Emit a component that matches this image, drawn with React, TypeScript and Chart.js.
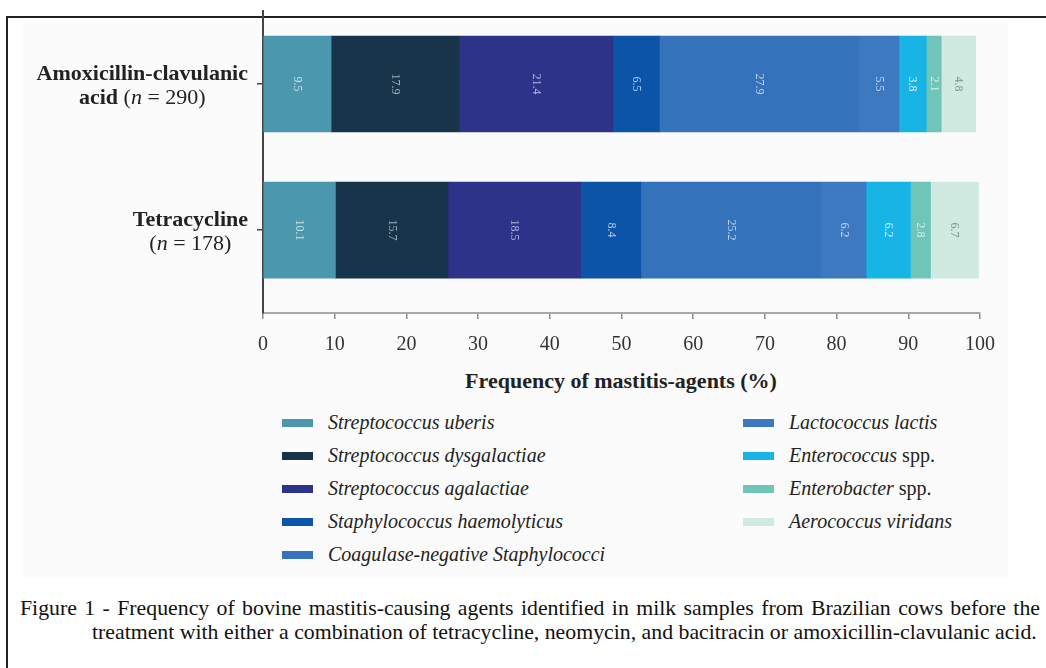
import React, { useEffect, useRef } from "react";
import { Chart, registerables } from "chart.js";

Chart.register(...registerables);

// ---------- data ----------
const categories = ["Amoxicillin-clavulanic acid (n = 290)", "Tetracycline (n = 178)"];

const seriesNames = [
  "Streptococcus uberis",
  "Streptococcus dysgalactiae",
  "Streptococcus agalactiae",
  "Staphylococcus haemolyticus",
  "Coagulase-negative Staphylococci",
  "Lactococcus lactis",
  "Enterococcus spp.",
  "Enterobacter spp.",
  "Aerococcus viridans",
];

const streptococcusUberis = [9.5, 10.1];
const streptococcusDysgalactiae = [17.9, 15.7];
const streptococcusAgalactiae = [21.4, 18.5];
const staphylococcusHaemolyticus = [6.5, 8.4];
const coagulaseNegativeStaph = [27.9, 25.2];
const lactococcusLactis = [5.5, 6.2];
const enterococcusSpp = [3.8, 6.2];
const enterobacterSpp = [2.1, 2.8];
const aerococcusViridans = [4.8, 6.7];

const seriesValues = [
  streptococcusUberis,
  streptococcusDysgalactiae,
  streptococcusAgalactiae,
  staphylococcusHaemolyticus,
  coagulaseNegativeStaph,
  lactococcusLactis,
  enterococcusSpp,
  enterobacterSpp,
  aerococcusViridans,
];

const seriesColors = [
  "#4b97ad",
  "#18344a",
  "#2d3388",
  "#0c54a8",
  "#3572bc",
  "#3d79c1",
  "#17b4e5",
  "#6fc5b8",
  "#d0eae2",
];

const valueLabelColors = [
  "rgba(215,232,240,0.9)",
  "rgba(170,190,205,0.9)",
  "rgba(190,195,235,0.9)",
  "rgba(200,215,240,0.9)",
  "rgba(205,220,245,0.9)",
  "rgba(210,225,245,0.9)",
  "rgba(225,240,250,0.95)",
  "rgba(225,240,238,0.95)",
  "rgba(120,135,130,0.9)",
];

const xTickValues = [0, 10, 20, 30, 40, 50, 60, 70, 80, 90, 100];

const xAxisTitle = "Frequency of mastitis-agents (%)";

// category label text runs: [text, style]  b=bold, n=normal, i=italic
const categoryLabelLines: [string, string][][][] = [
  [
    [["Amoxicillin-clavulanic", "b"]],
    [["acid", "b"], [" (", "n"], ["n", "i"], [" = 290)", "n"]],
  ],
  [
    [["Tetracycline", "b"]],
    [["(", "n"], ["n", "i"], [" = 178)", "n"]],
  ],
];

const captionLine1 =
  "Figure 1 - Frequency of bovine mastitis-causing agents identified in milk samples from Brazilian cows before the";
const captionLine2 =
  "treatment with either a combination of tetracycline, neomycin, and bacitracin or amoxicillin-clavulanic acid.";

const SERIF = "'Liberation Serif', 'Times New Roman', serif";

function fontFor(style: string, size: number) {
  if (style === "b") return `bold ${size}px ${SERIF}`;
  if (style === "i") return `italic ${size}px ${SERIF}`;
  return `${size}px ${SERIF}`;
}

const categoryLabelPlugin = {
  id: "categoryLabels",
  afterDraw(chart: any) {
    const ctx = chart.ctx;
    const yScale = chart.scales.y;
    const size = 22;
    const rightEdge = 248;
    ctx.save();
    ctx.fillStyle = "#222";
    ctx.textBaseline = "middle";
    ctx.textAlign = "left";
    categoryLabelLines.forEach((lines, idx) => {
      const cy = yScale.getPixelForValue(idx);
      const widths = lines.map((runs) =>
        runs.reduce((acc, [t, s]) => {
          ctx.font = fontFor(s, size);
          return acc + ctx.measureText(t).width;
        }, 0)
      );
      const blockW = Math.max(...widths);
      const center = rightEdge - blockW / 2;
      const offsets = [-10, 14];
      lines.forEach((runs, li) => {
        let x = center - widths[li] / 2;
        runs.forEach(([t, s]) => {
          ctx.font = fontFor(s, size);
          ctx.fillText(t, x, cy + offsets[li]);
          x += ctx.measureText(t).width;
        });
      });
    });
    ctx.restore();
  },
};

const valueLabelPlugin = {
  id: "valueLabels",
  afterDatasetsDraw(chart: any) {
    const ctx = chart.ctx;
    ctx.save();
    ctx.font = `12px ${SERIF}`;
    ctx.textAlign = "center";
    ctx.textBaseline = "middle";
    chart.data.datasets.forEach((ds: any, di: number) => {
      const meta = chart.getDatasetMeta(di);
      meta.data.forEach((bar: any, i: number) => {
        const v = seriesValues[di][i];
        const cx = (bar.x + bar.base) / 2;
        const cy = bar.y;
        ctx.save();
        ctx.translate(cx, cy);
        ctx.rotate(Math.PI / 2);
        ctx.fillStyle = valueLabelColors[di];
        ctx.fillText(Number(v).toFixed(1), 0, 0);
        ctx.restore();
      });
    });
    ctx.restore();
  },
};

function LegendItem({ name, color }: { name: string; color: string }) {
  const m = name.match(/^(.*?)( spp\.)$/);
  return (
    <div style={{ display: "flex", alignItems: "center", height: 33 }}>
      <div style={{ width: 31, height: 8, background: color, marginRight: 15, flex: "none" }} />
      <span style={{ fontFamily: SERIF, fontSize: 20, color: "#222", whiteSpace: "nowrap" }}>
        {m ? (
          <>
            <i>{m[1]}</i>
            {m[2]}
          </>
        ) : (
          <i>{name}</i>
        )}
      </span>
    </div>
  );
}

export default function App() {
  const canvasRef = useRef<HTMLCanvasElement | null>(null);

  useEffect(() => {
    const canvas = canvasRef.current;
    if (!canvas) return;
    const chart = new Chart(canvas, {
      type: "bar",
      data: {
        labels: categories,
        datasets: seriesNames.map((name, i) => ({
          label: name,
          data: seriesValues[i].map((v, ci) => ({ x: v, y: ci })),
          backgroundColor: seriesColors[i],
          borderWidth: 0,
          barThickness: 96,
          stack: "all",
        })),
      },
      options: {
        indexAxis: "y",
        animation: false,
        responsive: false,
        devicePixelRatio: 1,
        layout: { padding: { left: 257, right: 66, top: 11, bottom: 0 } },
        plugins: {
          legend: { display: false },
          tooltip: { enabled: false },
        },
        scales: {
          x: {
            type: "linear",
            stacked: true,
            min: 0,
            max: 100,
            afterBuildTicks: (s: any) => {
              s.ticks = xTickValues.map((v) => ({ value: v }));
            },
            afterFit: (s: any) => {
              s.height = 47;
            },
            ticks: {
              font: { family: SERIF, size: 20 },
              color: "#333",
              padding: 14,
              maxRotation: 0,
            },
            grid: {
              drawOnChartArea: false,
              tickLength: 6,
              color: "#8a8a8a",
              lineWidth: 1.5,
            },
            border: { color: "#a8a8a8", width: 2 },
          },
          y: {
            type: "linear",
            reverse: true,
            offset: false,
            min: -0.5,
            max: 1.568,
            afterBuildTicks: (s: any) => {
              s.ticks = categories.map((_, i) => ({ value: i }));
            },
            afterFit: (s: any) => {
              s.width = 6;
            },
            ticks: { display: false },
            grid: {
              offset: false,
              drawOnChartArea: false,
              tickLength: 6,
              color: "#444",
              lineWidth: 1.5,
            },
            border: { color: "#444", width: 2 },
          },
        },
      },
      plugins: [categoryLabelPlugin, valueLabelPlugin],
    } as any);
    return () => chart.destroy();
  }, []);

  const left = seriesNames.slice(0, 5).map((n, i) => ({ n, c: seriesColors[i] }));
  const right = seriesNames.slice(5).map((n, i) => ({ n, c: seriesColors[i + 5] }));

  return (
    <div>
      {/* frame */}
      <div
        style={{
          position: "absolute",
          left: 6,
          top: 16,
          width: 1040,
          height: 652,
          borderLeft: "2px solid #222",
          borderTop: "2px solid #222",
          boxSizing: "border-box",
        }}
      />
      {/* faint figure background */}
      <div
        style={{
          position: "absolute",
          left: 23,
          top: 22,
          width: 985,
          height: 555,
          background: "#fbfbfb",
        }}
      />
      <canvas
        ref={canvasRef}
        width={1046}
        height={360}
        style={{ position: "absolute", left: 0, top: 0, width: 1046, height: 360 }}
      />
      <div
        style={{
          position: "absolute",
          left: 621,
          top: 381,
          transform: "translate(-50%, -50%)",
          fontFamily: SERIF,
          fontWeight: "bold",
          fontSize: 22,
          color: "#222",
          whiteSpace: "nowrap",
        }}
      >
        {xAxisTitle}
      </div>
      <div style={{ position: "absolute", left: 282, top: 406 }}>
        {left.map((it) => (
          <LegendItem key={it.n} name={it.n} color={it.c} />
        ))}
      </div>
      <div style={{ position: "absolute", left: 743, top: 406 }}>
        {right.map((it) => (
          <LegendItem key={it.n} name={it.n} color={it.c} />
        ))}
      </div>
      <div
        style={{
          position: "absolute",
          left: 20,
          top: 595,
          width: 1020,
          fontFamily: SERIF,
          fontSize: 21.8,
          color: "#111",
          lineHeight: "26px",
          textAlign: "justify",
          textAlignLast: "justify" as any,
          whiteSpace: "nowrap",
        }}
      >
        {captionLine1}
      </div>
      <div
        style={{
          position: "absolute",
          left: 92,
          top: 619,
          fontFamily: SERIF,
          fontSize: 21.8,
          color: "#111",
          lineHeight: "26px",
          whiteSpace: "nowrap",
        }}
      >
        {captionLine2}
      </div>
    </div>
  );
}
